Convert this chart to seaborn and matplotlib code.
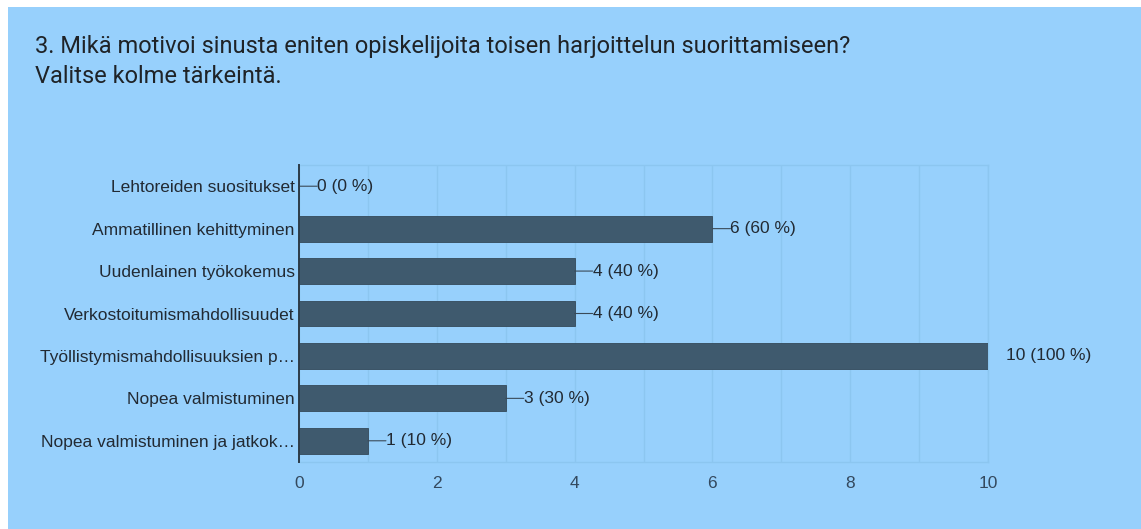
import matplotlib.pyplot as plt
import matplotlib.patches as mpatches
import pandas as pd
import seaborn as sns

# survey answers (n = 10)
categories = [
    "Lehtoreiden suositukset",
    "Ammatillinen kehittyminen",
    "Uudenlainen työkokemus",
    "Verkostoitumismahdollisuudet",
    "Työllistymismahdollisuuksien p…",
    "Nopea valmistuminen",
    "Nopea valmistuminen ja jatkok…",
]
counts = [0, 6, 4, 4, 10, 3, 1]
percents = [0, 60, 40, 40, 100, 30, 10]
x_ticks = [0, 2, 4, 6, 8, 10]

title_lines = [
    "3. Mikä motivoi sinusta eniten opiskelijoita toisen harjoittelun suorittamiseen?",
    "Valitse kolme tärkeintä.",
]

bg = "#97d0fc"
bar_color = "#3f5a6e"
grid_color = "#8cc6f0"
text_color = "#222a33"

df = pd.DataFrame({"category": categories, "count": counts})

sns.set_theme(style="white")
plt.rcParams["font.family"] = ["Liberation Sans", "DejaVu Sans"]

W, H = 1141, 529
fig = plt.figure(figsize=(W / 100, H / 100), dpi=100, facecolor="white")
# blue card with a thin white margin on top and left
fig.patches.append(
    mpatches.Rectangle((8 / W, 0), 1, 1 - 7 / H, transform=fig.transFigure,
                       facecolor=bg, edgecolor="none", zorder=-10)
)

ax = fig.add_axes([299 / W, 1 - 462 / H, 689 / W, 297 / H])
ax.set_facecolor(bg)

sns.barplot(data=df, x="count", y="category", color=bar_color, saturation=1,
            width=0.61, edgecolor="#34495a", linewidth=0.6, ax=ax, zorder=3)

xmax = max(x_ticks)
ax.set_xlim(0, xmax)
ax.set_ylim(len(categories) - 0.5, -0.5)
ax.set_xticks(x_ticks)
ax.set_xticks(range(0, xmax + 1), minor=True)
ax.xaxis.grid(True, which="both", color=grid_color, lw=1, zorder=0)
ax.set_axisbelow(True)
ax.set_xlabel("")
ax.set_ylabel("")

ax.tick_params(axis="y", length=0, pad=3, labelsize=12.5, labelcolor=text_color)
ax.tick_params(axis="x", which="both", length=0, pad=10, labelsize=12.5,
               labelcolor="#34495e")

for side in ["top", "right", "bottom"]:
    ax.spines[side].set_color(grid_color)
    ax.spines[side].set_linewidth(1)
ax.spines["left"].set_color("#2c3b48")
ax.spines["left"].set_linewidth(1.4)
ax.spines["left"].set_zorder(5)

for i, (v, p) in enumerate(zip(counts, percents)):
    arrow = None
    if v < xmax:
        arrow = dict(arrowstyle="-", color="#3a4a58", lw=0.8,
                     shrinkA=0, shrinkB=0, relpos=(0, 0.5), patchA=None)
    ax.annotate(f"{v} ({p} %)", xy=(v, i), xytext=(13, 0),
                textcoords="offset points", va="center", ha="left",
                fontsize=12.5, color=text_color, arrowprops=arrow,
                annotation_clip=False)

for k, line in enumerate(title_lines):
    fig.text(35 / W, 1 - (53 + 30 * k) / H, line, fontsize=17,
             family=["Roboto", "DejaVu Sans"], color="#1f2327",
             va="baseline", ha="left")

fig.savefig("out.png", dpi=100, facecolor=fig.get_facecolor())
